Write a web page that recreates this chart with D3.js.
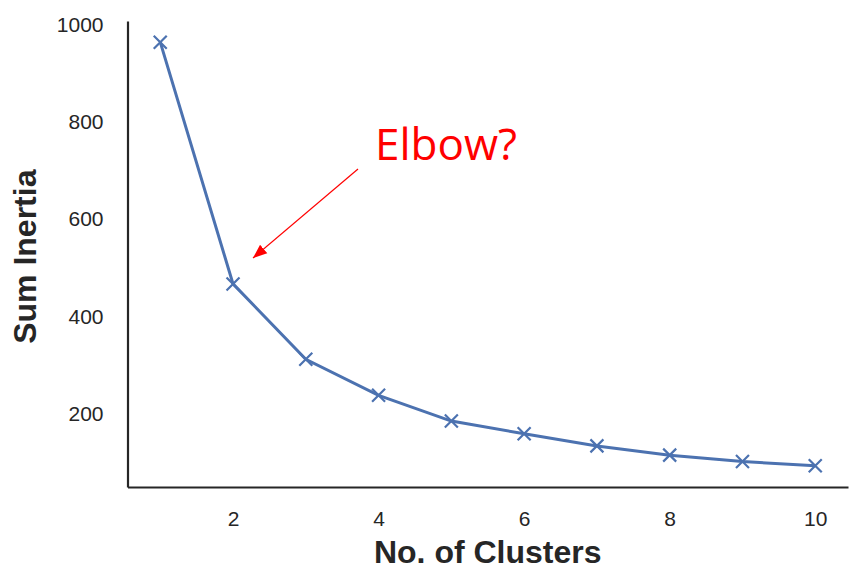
<!DOCTYPE html>
<html>
<head>
<meta charset="utf-8">
<script src="https://cdn.jsdelivr.net/npm/d3@7"></script>
<style>
  body { margin: 0; background: #fff; }
  svg { display: block; }
  .tick text { font-family: "Liberation Sans", Arial, sans-serif; font-size: 21px; fill: #262626; }
  .label { font-family: "Liberation Sans", Arial, sans-serif; font-size: 32px; font-weight: bold; fill: #262626; }
</style>
</head>
<body>
<svg width="862" height="583"></svg>
<script>
const clusters = [1, 2, 3, 4, 5, 6, 7, 8, 9, 10]
const inertia = [964, 467, 312, 238, 185, 159, 134, 115, 102, 93]
const xTicks = [2, 4, 6, 8, 10]
const yTicks = [200, 400, 600, 800, 1000]

const width = 862
const height = 583
const margin = { top: 21, right: 14, bottom: 96, left: 127.5 }

const svg = d3.select("svg")

const x = d3.scaleLinear()
    .domain([0.55, 10.45])
    .range([margin.left, width - margin.right])

const y = d3.scaleLinear()
    .domain([49.5, 1007.5])
    .range([height - margin.bottom, margin.top])

svg.append("g")
    .attr("transform", `translate(0,${height - margin.bottom})`)
    .call(d3.axisBottom(x).tickValues(xTicks).tickSize(0).tickPadding(24).tickFormat(d3.format("d")))
    .call(g => g.select(".domain").attr("stroke", "#262626").attr("stroke-width", 2.2))

svg.append("g")
    .attr("transform", `translate(${margin.left},0)`)
    .call(d3.axisLeft(y).tickValues(yTicks).tickSize(0).tickPadding(24).tickFormat(d3.format("d")))
    .call(g => g.select(".domain").attr("stroke", "#262626").attr("stroke-width", 2.2))

const data = clusters.map((c, i) => ({ c, v: inertia[i] }))

svg.append("path")
    .datum(data)
    .attr("d", d3.line().x(d => x(d.c)).y(d => y(d.v)))
    .style("fill", "none")
    .style("stroke", "#4c72b0")
    .style("stroke-width", 3)

const s = 6.5
svg.selectAll(".mark")
    .data(data)
    .join("path")
    .attr("class", "mark")
    .attr("d", d => `M${x(d.c) - s},${y(d.v) - s}L${x(d.c) + s},${y(d.v) + s}M${x(d.c) - s},${y(d.v) + s}L${x(d.c) + s},${y(d.v) - s}`)
    .style("stroke", "#4c72b0")
    .style("stroke-width", 2.2)

svg.append("text")
    .attr("class", "label")
    .attr("x", x(5.5))
    .attr("y", 563)
    .attr("text-anchor", "middle")
    .text("No. of Clusters")

svg.append("text")
    .attr("class", "label")
    .attr("transform", `translate(36,256.7) rotate(-90)`)
    .attr("text-anchor", "middle")
    .text("Sum Inertia")

// annotation
svg.append("defs").append("marker")
    .attr("id", "head")
    .attr("viewBox", "0 0 10 10")
    .attr("refX", 10)
    .attr("refY", 5)
    .attr("markerWidth", 14)
    .attr("markerHeight", 14)
    .attr("markerUnits", "userSpaceOnUse")
    .attr("orient", "auto")
    .append("path")
    .attr("d", "M0,1L10,5L0,9Z")
    .style("fill", "#ff0000")

svg.append("line")
    .attr("x1", 358)
    .attr("y1", 169)
    .attr("x2", 253)
    .attr("y2", 258)
    .style("stroke", "#ff0000")
    .style("stroke-width", 1.2)
    .attr("marker-end", "url(#head)")

svg.append("text")
    .attr("x", 375)
    .attr("y", 160)
    .style("font-family", "'Open Sans', 'Noto Sans', sans-serif")
    .style("font-size", "44px")
    .style("fill", "#ff0000")
    .text("Elbow?")
</script>
</body>
</html>
